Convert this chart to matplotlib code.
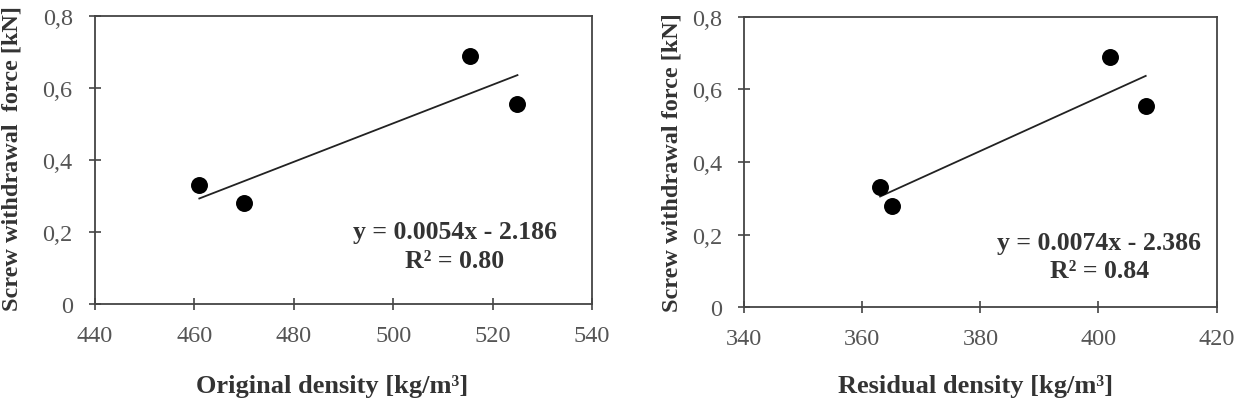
import numpy as np
import matplotlib.pyplot as plt

plt.rcParams['font.family'] = ['Liberation Serif', 'DejaVu Serif']

# original density vs force
origDensity = [461, 470, 515.5, 525]
origForce = [0.33, 0.28, 0.69, 0.555]
origEq = 'y = 0.0054x - 2.186\nR² = 0.80'

# residual density vs force
resDensity = [363, 365, 402, 408]
resForce = [0.33, 0.28, 0.69, 0.555]
resEq = 'y = 0.0074x - 2.386\nR² = 0.84'

yTicks = [0, 0.2, 0.4, 0.6, 0.8]
yTickLabels = ['0', '0,2', '0,4', '0,6', '0,8']

fig = plt.figure(figsize=(12.49, 4.06), dpi=100)
axLeft = fig.add_axes([0.076, 0.249, 0.398, 0.709])
axRight = fig.add_axes([0.596, 0.241, 0.378, 0.715])

#axes, x, y, equation, xlim, xticks, xlabel, ylabel, equation pos, ylabel pos, xlabel pos
panels = [
	(axLeft, origDensity, origForce, origEq, (440, 540), range(440, 541, 20),
	 'Original density [kg/m³]', 'Screw withdrawal  force [kN]', (0.724, 0.201), (-0.145, 0.51), (0.477, -0.243)),
	(axRight, resDensity, resForce, resEq, (340, 420), range(340, 421, 20),
	 'Residual density [kg/m³]', 'Screw withdrawal force [kN]', (0.752, 0.174), (-0.131, 0.5), (0.489, -0.231)),
]

for ax, x, y, eq, xlim, xticks, xlabel, ylabel, eqPos, ylabPos, xlabPos in panels:
	ax.scatter(x, y, s=125, color='black', zorder=3)

	#linear trendline over the data range
	slope, intercept = np.polyfit(x, y, 1)
	xs = np.array([min(x), max(x)])
	ax.plot(xs, slope * xs + intercept, color='#222222', linewidth=1.3)

	ax.set_xlim(xlim)
	ax.set_ylim(0, 0.8)
	ax.set_xticks(list(xticks))
	ax.set_yticks(yTicks)
	ax.set_yticklabels(yTickLabels)
	ax.tick_params(direction='inout', length=8, width=1.2, labelsize=17.5,
				   labelcolor='#555555', color='#444444')
	ax.tick_params(axis='x', pad=11)
	ax.tick_params(axis='y', pad=12)
	for spine in ax.spines.values():
		spine.set_color('#444444')
		spine.set_linewidth(1.3)

	ax.set_xlabel(xlabel, fontsize=19, fontweight='bold', color='#333333')
	ax.set_ylabel(ylabel, fontsize=17.5, fontweight='bold', color='#333333')
	ax.xaxis.set_label_coords(*xlabPos)
	ax.yaxis.set_label_coords(*ylabPos)
	ax.text(eqPos[0], eqPos[1], eq, transform=ax.transAxes, ha='center', va='center',
			fontsize=18.5, fontweight='bold', color='#333333', linespacing=1.3)

fig.savefig('out.png', dpi=100)
